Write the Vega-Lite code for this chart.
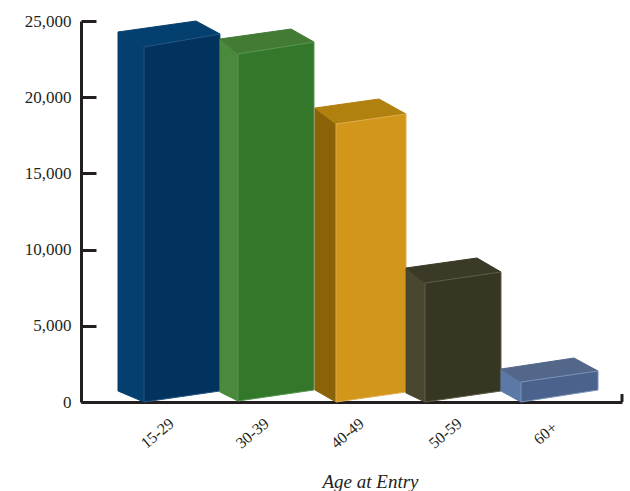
{"$schema":"https://vega.github.io/schema/vega-lite/v6.json","width":541,"height":381,"autosize":{"type":"none"},"padding":{"left":81,"top":21,"right":8,"bottom":89},"background":"white","config":{"view":{"stroke":null},"font":"Liberation Serif"},
"layer":[
{"data":{"values":[
{"part":"15-29 side","corner":1,"pos":37,"count":24278},{"part":"15-29 side","corner":2,"pos":63,"count":23294},{"part":"15-29 side","corner":3,"pos":63,"count":0},{"part":"15-29 side","corner":4,"pos":37,"count":722},
{"part":"15-29 top","corner":1,"pos":37,"count":24278},{"part":"15-29 top","corner":2,"pos":115,"count":25000},{"part":"15-29 top","corner":3,"pos":139,"count":24147},{"part":"15-29 top","corner":4,"pos":63,"count":23294},
{"part":"15-29 front","corner":1,"pos":63,"count":23294},{"part":"15-29 front","corner":2,"pos":139,"count":24147},{"part":"15-29 front","corner":3,"pos":139,"count":722},{"part":"15-29 front","corner":4,"pos":63,"count":0},
{"part":"30-39 side","corner":1,"pos":139,"count":23819},{"part":"30-39 side","corner":2,"pos":157,"count":22835},{"part":"30-39 side","corner":3,"pos":157,"count":66},{"part":"30-39 side","corner":4,"pos":139,"count":656},
{"part":"30-39 top","corner":1,"pos":139,"count":23819},{"part":"30-39 top","corner":2,"pos":210,"count":24475},{"part":"30-39 top","corner":3,"pos":233,"count":23622},{"part":"30-39 top","corner":4,"pos":157,"count":22835},
{"part":"30-39 front","corner":1,"pos":157,"count":22835},{"part":"30-39 front","corner":2,"pos":233,"count":23622},{"part":"30-39 front","corner":3,"pos":233,"count":787},{"part":"30-39 front","corner":4,"pos":157,"count":66},
{"part":"40-49 side","corner":1,"pos":234,"count":19291},{"part":"40-49 side","corner":2,"pos":255,"count":18241},{"part":"40-49 side","corner":3,"pos":255,"count":0},{"part":"40-49 side","corner":4,"pos":234,"count":787},
{"part":"40-49 top","corner":1,"pos":234,"count":19291},{"part":"40-49 top","corner":2,"pos":298,"count":19882},{"part":"40-49 top","corner":3,"pos":325,"count":18898},{"part":"40-49 top","corner":4,"pos":255,"count":18241},
{"part":"40-49 front","corner":1,"pos":255,"count":18241},{"part":"40-49 front","corner":2,"pos":325,"count":18898},{"part":"40-49 front","corner":3,"pos":325,"count":656},{"part":"40-49 front","corner":4,"pos":255,"count":0},
{"part":"50-59 side","corner":1,"pos":325,"count":8793},{"part":"50-59 side","corner":2,"pos":344,"count":7808},{"part":"50-59 side","corner":3,"pos":344,"count":0},{"part":"50-59 side","corner":4,"pos":325,"count":591},
{"part":"50-59 top","corner":1,"pos":325,"count":8793},{"part":"50-59 top","corner":2,"pos":396,"count":9449},{"part":"50-59 top","corner":3,"pos":420,"count":8530},{"part":"50-59 top","corner":4,"pos":344,"count":7808},
{"part":"50-59 front","corner":1,"pos":344,"count":7808},{"part":"50-59 front","corner":2,"pos":420,"count":8530},{"part":"50-59 front","corner":3,"pos":420,"count":722},{"part":"50-59 front","corner":4,"pos":344,"count":0},
{"part":"60+ side","corner":1,"pos":420,"count":2165},{"part":"60+ side","corner":2,"pos":440,"count":1312},{"part":"60+ side","corner":3,"pos":440,"count":0},{"part":"60+ side","corner":4,"pos":420,"count":722},
{"part":"60+ top","corner":1,"pos":420,"count":2165},{"part":"60+ top","corner":2,"pos":493,"count":2887},{"part":"60+ top","corner":3,"pos":517,"count":2034},{"part":"60+ top","corner":4,"pos":440,"count":1312},
{"part":"60+ front","corner":1,"pos":440,"count":1312},{"part":"60+ front","corner":2,"pos":517,"count":2034},{"part":"60+ front","corner":3,"pos":517,"count":787},{"part":"60+ front","corner":4,"pos":440,"count":0}
]},
"mark":{"type":"line","filled":true,"strokeWidth":1,"interpolate":"linear-closed"},
"encoding":{
"x":{"field":"pos","type":"quantitative","scale":{"domain":[0,541],"nice":false},"axis":{"values":[76,171,266,364,464],"labelExpr":"{'76':'15-29','171':'30-39','266':'40-49','364':'50-59','464':'60+'}[datum.value]","labelAngle":-40,"labelAlign":"center","labelBaseline":"middle","labelPadding":31,"labelFontSize":16,"labelFont":"Liberation Serif","labelColor":"#231f20","ticks":false,"grid":false,"domainColor":"#231f20","domainWidth":3,"title":"Age at Entry","titleFont":"Liberation Serif","titleFontStyle":"italic","titleFontWeight":"normal","titleFontSize":19,"titleColor":"#231f20","titleX":289,"titleY":70,"labelOverlap":false}},
"y":{"field":"count","type":"quantitative","scale":{"domain":[0,25000],"nice":false},"axis":{"values":[0,5000,10000,15000,20000,25000],"format":",d","title":null,"tickSize":-15,"tickWidth":3,"tickColor":"#231f20","domainColor":"#231f20","domainWidth":3,"labelFontSize":17,"labelFont":"Liberation Serif","labelColor":"#231f20","labelPadding":25,"grid":false}},
"order":{"field":"corner","type":"ordinal"},
"color":{"field":"part","type":"nominal","legend":null,"scale":{"domain":["15-29 side","15-29 top","15-29 front","30-39 side","30-39 top","30-39 front","40-49 side","40-49 top","40-49 front","50-59 side","50-59 top","50-59 front","60+ side","60+ top","60+ front"],"range":["#053f70","#04406f","#02335f","#4b8a3c","#437a34","#33782a","#8a6309","#b1810f","#d1961a","#4a4730","#3b3a26","#363622","#5b78a7","#526789","#4a628c"]}},
"stroke":{"field":"part","type":"nominal","legend":null,"scale":{"domain":["15-29 side","15-29 top","15-29 front","30-39 side","30-39 top","30-39 front","40-49 side","40-49 top","40-49 front","50-59 side","50-59 top","50-59 front","60+ side","60+ top","60+ front"],"range":["#053f70","#04406f","#24557f","#4b8a3c","#437a34","#5a9650","#8a6309","#b1810f","#e0ad4d","#4a4730","#3b3a26","#5c5c48","#5b78a7","#526789","#7a93b8"]}}
}},
{"data":{"values":[{"pos":541,"count":0,"count2":525}]},"mark":{"type":"rule","color":"#231f20","strokeWidth":3},"encoding":{"x":{"field":"pos","type":"quantitative"},"y":{"field":"count","type":"quantitative"},"y2":{"field":"count2"}}}
]}
